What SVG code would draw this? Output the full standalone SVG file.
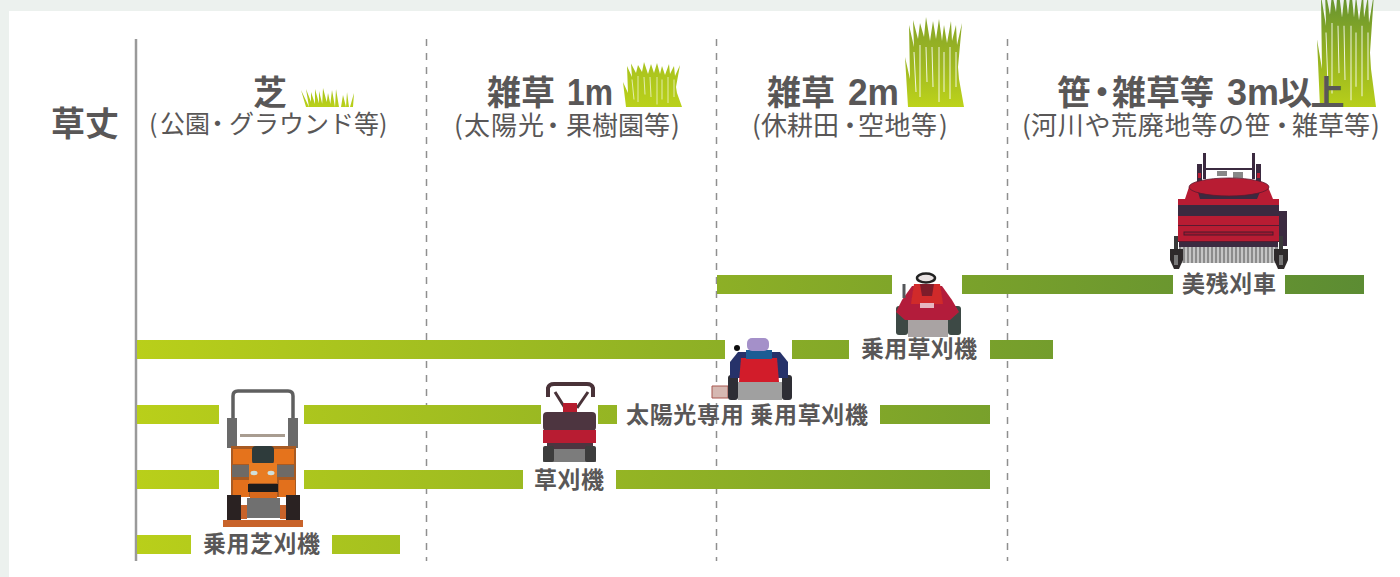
<svg xmlns="http://www.w3.org/2000/svg" xmlns:xlink="http://www.w3.org/1999/xlink" width="1400" height="577" viewBox="0 0 1400 577">
<style>
text{font-family:"Noto Sans CJK JP","Noto Sans",sans-serif;fill:#595757}
.h{font-weight:700;font-size:34px}
.n{font-family:"Liberation Sans",Arial,sans-serif;font-weight:700;font-size:36px}
.s{font-weight:400;font-size:26px}
.s1{font-weight:400;font-size:25px}
.l{font-weight:700;font-size:23px}
.bar{fill:url(#barg)}
.grid{stroke:#8f8f8f;stroke-width:1.5;stroke-dasharray:7 7;fill:none}
.ink{fill:#3b2a40}
.red{fill:#b81c33}
.grey{fill:#8c8c8c}
.dk{fill:#3a3a3a}
.slit{stroke:#fff;stroke-width:1;opacity:.85;fill:none}
.soft{filter:url(#soft)}
</style>
<defs>
<filter id="soft" x="-5%" y="-5%" width="110%" height="110%"><feGaussianBlur stdDeviation=".7"/></filter>
<linearGradient id="barg" gradientUnits="userSpaceOnUse" x1="137" y1="0" x2="1364" y2="0"><stop offset="0" stop-color="#b9cf1a"/><stop offset="1" stop-color="#5c8c33"/></linearGradient>
<linearGradient id="g2" x1="0" y1="1" x2="0" y2="0"><stop offset="0" stop-color="#bad11a"/><stop offset="1" stop-color="#a8c21e"/></linearGradient>
<linearGradient id="g3" x1="0" y1="1" x2="0" y2="0"><stop offset="0" stop-color="#bdd31a"/><stop offset=".5" stop-color="#9db722"/><stop offset="1" stop-color="#86a528"/></linearGradient>
<linearGradient id="g4" x1="0" y1="1" x2="0" y2="0"><stop offset="0" stop-color="#b8cf1a"/><stop offset=".45" stop-color="#92b022"/><stop offset="1" stop-color="#5c8c33"/></linearGradient>
<g id="blades">
<path d="M2,90L-1,40L4,62L3,8L8,30L7,3L12,22L14,6L18,20L20,0L24,24L27,4L30,22L33,2L36,24L38,8L41,26L45,4L46,24L50,8L51,28L56,6L52,50L53,62L58,90Z"/>
<path class="slit" d="M8,35L10,75M14,28L14,80M20,30L21,65M26,30L27,70M33,30L33,85M38,35L38,75M44,30L44,82M50,35L50,70"/>
</g>
</defs>
<rect width="1400" height="577" fill="#ecf1ee"/>
<rect x="9" y="11" width="1391" height="566" fill="#fff"/>
<g id="grid">
<path d="M136,39V561" stroke="#9a9a9a" stroke-width="2.500" fill="none"/>
<path class="grid" d="M426.500,39V561M716.500,39V561M1007.500,39V561"/>
</g>
<g id="grass">
<path fill="url(#g2)" d="M301,90L306,107H309ZM306,89L309,107H313ZM311,92L311,107H316ZM315,89L315,107H320ZM319,91L319,107H323ZM323,88L322,107H328ZM328,93L326,107H331ZM332,90L330,107H335ZM336,89L335,107H339ZM343,95L341,107H346ZM347,92L346,107H349ZM354,93L350,107H353Z"/>
<use xlink:href="#blades" href="#blades" fill="url(#g2)" transform="translate(624,62) scale(1,.5)"/>
<use xlink:href="#blades" href="#blades" fill="url(#g3)" transform="translate(906,17)"/>
<use xlink:href="#blades" href="#blades" fill="url(#g4)" transform="translate(1318,-15) scale(1,1.356)"/>
</g>
<g id="connectors">
<rect class="bar" x="717" y="275" width="175" height="19"/>
<rect class="bar" x="962" y="275" width="211" height="19"/>
<rect class="bar" x="1285" y="275" width="79" height="19"/>
<rect class="bar" x="137" y="340" width="588" height="19"/>
<rect class="bar" x="792" y="340" width="57" height="19"/>
<rect class="bar" x="990" y="340" width="63" height="19"/>
<rect class="bar" x="137" y="405" width="82" height="19"/>
<rect class="bar" x="304" y="405" width="237" height="19"/>
<rect class="bar" x="598" y="405" width="19" height="19"/>
<rect class="bar" x="880" y="405" width="110" height="19"/>
<rect class="bar" x="137" y="470" width="82" height="19"/>
<rect class="bar" x="304" y="470" width="219" height="19"/>
<rect class="bar" x="616" y="470" width="374" height="19"/>
<rect class="bar" x="137" y="535" width="54" height="19"/>
<rect class="bar" x="332" y="535" width="68" height="19"/>
</g>
<g id="headers">
<text class="h" x="51" y="136">草丈</text>
<text class="h" x="253" y="105">芝</text>
<text class="h" y="105"><tspan x="487">雑草</tspan></text>
<text class="n" x="567" y="105" textLength="46" lengthAdjust="spacingAndGlyphs">1m</text>
<text class="h" y="105"><tspan x="767">雑草</tspan></text>
<text class="n" x="848" y="105" textLength="51" lengthAdjust="spacingAndGlyphs">2m</text>
<text class="h" y="105"><tspan x="1057">笹</tspan><tspan x="1085">・</tspan><tspan x="1112">雑草等</tspan></text>
<text class="n" x="1227" y="105" textLength="52" lengthAdjust="spacingAndGlyphs">3m</text>
<text class="h" x="1278" y="105" style="letter-spacing:-1.500px">以上</text>
<text class="s1" y="133"><tspan x="149">(</tspan><tspan x="160">公園</tspan><tspan x="205">・</tspan><tspan x="229">グラウンド等</tspan><tspan x="379">)</tspan></text>
<text class="s" y="135"><tspan x="454">(</tspan><tspan x="464" style="letter-spacing:1px">太陽光</tspan><tspan x="540">・</tspan><tspan x="566">果樹園等</tspan><tspan x="671">)</tspan></text>
<text class="s" y="135"><tspan x="752">(</tspan><tspan x="761">休耕田</tspan><tspan x="837">・</tspan><tspan x="858" style="letter-spacing:.5px">空地等</tspan><tspan x="939">)</tspan></text>
<text class="s" y="135"><tspan x="1022">(</tspan><tspan x="1031" style="letter-spacing:.7px">河川や荒廃地等の笹</tspan><tspan x="1269">・</tspan><tspan x="1292">雑草等</tspan><tspan x="1371">)</tspan></text>
</g>
<g id="node-bizan">
<rect x="1203" y="153" width="3" height="26" class="ink"/>
<rect x="1252" y="153" width="3" height="26" class="ink"/>
<path d="M1206,169H1252" stroke="#3b2a40" stroke-width="2"/>
<rect x="1197" y="164" width="5" height="18" class="ink"/>
<rect x="1256" y="164" width="5" height="18" class="ink"/>
<rect x="1198" y="173" width="3" height="5" fill="#b81c33"/>
<rect x="1257" y="173" width="3" height="5" fill="#b81c33"/>
<rect x="1217" y="171" width="10" height="5" fill="#888"/>
<rect x="1233" y="172" width="10" height="6" fill="#888"/>
<path class="red" d="M1189,187L1185,199H1273L1268,187Z"/>
<path class="ink" d="M1198,192H1260L1257,199H1200Z"/>
<ellipse class="red" cx="1229" cy="187" rx="40" ry="9" stroke="#5a1a30" stroke-width=".8"/>
<rect class="red" x="1178" y="199" width="101" height="6"/>
<rect class="ink" x="1178" y="205" width="101" height="11"/>
<rect class="red" x="1178" y="216" width="101" height="26"/>
<path d="M1178,225.500H1279M1178,241.500H1279" stroke="#5a1a30" stroke-width="1"/>
<rect x="1184" y="232" width="89" height="3" fill="#a01830" stroke="#4a1a2c"/>
<rect class="ink" x="1279" y="211" width="8" height="35"/>
<rect class="ink" x="1179" y="242" width="99" height="5"/>
<rect class="grey" x="1179" y="247" width="99" height="16"/>
<path d="M1182,247V263M1186,247V263M1190,247V263M1194,247V263M1198,247V263M1202,247V263M1206,247V263M1210,247V263M1214,247V263M1218,247V263M1222,247V263M1226,247V263M1230,247V263M1234,247V263M1238,247V263M1242,247V263M1246,247V263M1250,247V263M1254,247V263M1258,247V263M1262,247V263M1266,247V263M1270,247V263M1274,247V263" stroke="#fff" stroke-width="1"/>
<rect class="dk" x="1174" y="236" width="4" height="14"/>
<rect class="dk" x="1279" y="236" width="4" height="14"/>
<path fill="#2e2a2b" d="M1170,249H1183L1183,260L1179,269H1174L1170,260Z"/>
<path fill="#2e2a2b" d="M1274,249H1288L1288,260L1284,269H1278L1274,260Z"/>
<rect x="1174" y="255" width="4" height="10" fill="#777"/>
<rect x="1279" y="255" width="4" height="10" fill="#777"/>
</g>
<g id="node-rider-red">
<rect x="892" y="272" width="70" height="65" fill="#fff"/>
<g class="soft">
<rect x="908" y="318" width="40" height="19" fill="#a9a3a3"/>
<rect x="896" y="306" width="12" height="29" rx="3" fill="#3d4a45"/>
<rect x="948" y="306" width="13" height="29" rx="3" fill="#3d4a45"/>
<path fill="#b31f3a" d="M902,300L912,286H942L952,300L959,312L950,320H905L896,312Z"/>
<path fill="#d02a2a" d="M914,284H940L943,304H911Z"/>
<path fill="#7d1a2a" d="M920,284H934L932,296H922Z"/>
<rect x="920" y="303" width="14" height="5" fill="#e6b6c0"/>
<path d="M904,284V298" stroke="#55565a" stroke-width="3"/>
<ellipse cx="926" cy="278" rx="9" ry="4.500" fill="#e9e2e2" stroke="#222" stroke-width="2.500"/>
</g>
</g>
<g id="node-rider-blue">
<rect x="725" y="335" width="67" height="65" fill="#fff"/>
<g class="soft">
<path d="M712,386H728V398H712Z" fill="#d5b8b2" stroke="#a8574f"/>
<rect x="738" y="382" width="44" height="18" fill="#a0a0a0"/>
<rect x="728" y="375" width="10" height="25" rx="3" fill="#2f2f35"/>
<rect x="782" y="375" width="10" height="25" rx="3" fill="#2f2f35"/>
<path d="M738,352H780L788,362V378H730V362Z" fill="#28336b"/>
<path d="M741,358H777L779,382H739Z" fill="#d21e2a"/>
<rect x="746" y="350" width="26" height="9" fill="#1f5c94"/>
<rect x="747" y="338" width="22" height="13" rx="5" fill="#a490c9"/>
<circle cx="737" cy="348" r="3" fill="#111"/>
</g>
</g>
<g id="node-shibakari">
<rect x="219" y="388" width="85" height="140" fill="#fff"/>
<g class="soft">
<path d="M233,420V396Q233,391 238,391H288Q293,391 293,396V420" fill="none" stroke="#5f5f5f" stroke-width="3.500"/>
<rect x="227" y="418" width="10" height="30" fill="#6b6b6b"/>
<rect x="288" y="418" width="10" height="30" fill="#6b6b6b"/>
<rect x="240" y="434" width="45" height="3" fill="#a89c90"/>
<rect x="231" y="446" width="65" height="51" fill="#a85a24"/>
<rect x="233" y="449" width="19" height="15" fill="#e5731c"/>
<rect x="274" y="449" width="20" height="15" fill="#e5731c"/>
<rect x="252" y="446" width="22" height="18" rx="4" fill="#2f3a3a"/>
<rect x="232" y="465" width="18" height="12" fill="#6e6a66"/>
<rect x="276" y="465" width="18" height="12" fill="#6e6a66"/>
<rect x="249" y="463" width="28" height="20" fill="#e87c22"/>
<ellipse cx="254" cy="473" rx="3.500" ry="2.200" fill="#cfe0dc"/>
<ellipse cx="271" cy="473" rx="3.500" ry="2.200" fill="#cfe0dc"/>
<rect x="233" y="480" width="16" height="17" fill="#e2701e"/>
<rect x="279" y="480" width="16" height="17" fill="#e2701e"/>
<rect x="248" y="484" width="30" height="8" fill="#1e1a1a"/>
<rect x="250" y="492" width="27" height="6" fill="#d8691f"/>
<rect x="247" y="498" width="33" height="20" fill="#6f6f6f"/>
<rect x="227" y="495" width="14" height="30" fill="#2a2322"/>
<rect x="286" y="495" width="14" height="30" fill="#2a2322"/>
<rect x="241" y="505" width="6" height="14" fill="#c8632a"/>
<rect x="280" y="505" width="6" height="14" fill="#c8632a"/>
<rect x="223" y="520" width="80" height="7" fill="#c8632a"/>
</g>
</g>
<g id="node-kusakari">
<rect x="541" y="383" width="57" height="80" fill="#fff"/>
<g class="soft">
<path d="M555,392L565,408M588,392L577,408" stroke="#4a3238" stroke-width="3"/>
<path d="M548,397V388Q549,384 554,384H587Q592,384 593,388V397" fill="none" stroke="#4a3238" stroke-width="4"/>
<rect x="563" y="403" width="14" height="10" fill="#b51d2e"/>
<rect x="543" y="412" width="53" height="19" rx="4" fill="#4e3640"/>
<rect x="543" y="430" width="53" height="13" fill="#b81c33"/>
<rect x="547" y="443" width="46" height="6" fill="#4e3640"/>
<rect x="543" y="449" width="53" height="13" fill="#7b7b7b"/>
<rect x="543" y="446" width="11" height="16" rx="2" fill="#3c3c3c"/>
<rect x="585" y="446" width="11" height="16" rx="2" fill="#3c3c3c"/>
</g>
</g>
<g id="labels">
<text class="l" x="1182" y="292" textLength="94">美残刈車</text>
<text class="l" x="861" y="357" textLength="116">乗用草刈機</text>
<text class="l" x="626" y="423" textLength="242">太陽光専用 乗用草刈機</text>
<text class="l" x="534" y="488" textLength="70">草刈機</text>
<text class="l" x="203" y="552" textLength="117">乗用芝刈機</text>
</g>
</svg>
